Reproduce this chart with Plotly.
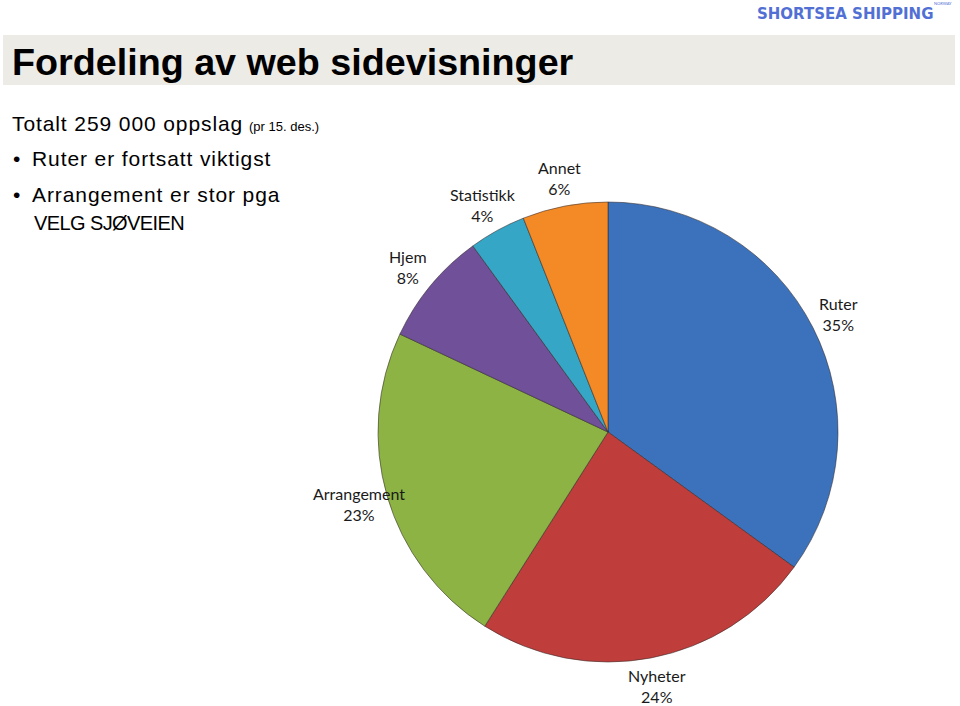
import math
import plotly.graph_objects as go

categories = ["Ruter", "Nyheter", "Arrangement", "Hjem", "Statistikk", "Annet"]
values = [35, 24, 23, 8, 4, 6]
colors = ["#3C72BC", "#BF3E3B", "#8CB343", "#6F5099", "#35A6C6", "#F38A26"]

W, H = 960, 706
cx_px, cy_px, r_px = 608, 432, 230
label_r_px = 259

def px(x):
    return x / W

def py(y):
    return 1 - y / H

fig = go.Figure()
fig.add_trace(go.Pie(
    labels=categories, values=values, sort=False, direction="clockwise", rotation=0,
    marker=dict(colors=colors, line=dict(color="rgba(50,40,40,0.55)", width=1)),
    textinfo="none", hoverinfo="label+percent", showlegend=False,
    domain=dict(x=[px(cx_px - r_px), px(cx_px + r_px)], y=[py(cy_px + r_px), py(cy_px - r_px)]),
))

annotations = []
total = sum(values)
cum = 0
for cat, v in zip(categories, values):
    mid = (cum + v / 2) / total * 2 * math.pi
    cum += v
    lx = cx_px + label_r_px * math.sin(mid)
    ly = cy_px - label_r_px * math.cos(mid)
    annotations.append(dict(
        x=px(lx), y=py(ly), xref="paper", yref="paper", showarrow=False,
        text=f"{cat}<br>{round(v / total * 100)}%", align="center", borderpad=0,
        font=dict(family="Lato, Carlito, sans-serif", size=16, color="#1a1a1a"),
        xanchor="center", yanchor="middle",
    ))

body_font = dict(family="Liberation Sans, Arial, sans-serif", size=21, color="#000")
sp = "<span style='letter-spacing:0.9px'>{}</span>"

annotations += [
    dict(x=px(10), y=py(62), xref="paper", yref="paper", showarrow=False, xanchor="left", yanchor="middle",
         text="<b>Fordeling av web sidevisninger</b>",
         font=dict(family="Liberation Sans, Arial, sans-serif", size=37.7, color="#000")),
    dict(x=px(10), y=py(123), xref="paper", yref="paper", showarrow=False, xanchor="left", yanchor="middle",
         text=sp.format("Totalt 259 000 oppslag") + " <span style='font-size:13px'>(pr 15. des.)</span>",
         font=body_font),
    dict(x=px(11), y=py(158), xref="paper", yref="paper", showarrow=False, xanchor="left", yanchor="middle",
         text="•  " + sp.format("Ruter er fortsatt viktigst"), font=body_font),
    dict(x=px(11), y=py(194), xref="paper", yref="paper", showarrow=False, xanchor="left", yanchor="middle",
         text="•  " + sp.format("Arrangement er stor pga"), font=body_font),
    dict(x=px(32), y=py(223), xref="paper", yref="paper", showarrow=False, xanchor="left", yanchor="middle",
         text="<span style='letter-spacing:-0.6px'>VELG SJØVEIEN</span>",
         font=dict(family="Liberation Sans, Arial, sans-serif", size=20, color="#000")),
    dict(x=px(845), y=py(14), xref="paper", yref="paper", showarrow=False, xanchor="center", yanchor="middle",
         text="<b>SHORTSEA SHIPPING</b>", borderpad=0,
         font=dict(family="DejaVu Sans, sans-serif", size=15, color="#5270D4")),
    dict(x=px(943), y=py(0), xref="paper", yref="paper", showarrow=False, xanchor="center", yanchor="top",
         text="NORWAY", borderpad=0, font=dict(family="Lato, sans-serif", size=4, color="#5270D4")),
]

fig.update_layout(
    width=W, height=H, margin=dict(l=0, r=0, t=0, b=0),
    paper_bgcolor="white", plot_bgcolor="white",
    annotations=annotations,
    shapes=[dict(type="rect", xref="paper", yref="paper", x0=px(3), x1=px(955), y0=py(85), y1=py(35),
                 fillcolor="#ECEBE5", line=dict(width=0), layer="below")],
)

fig.write_html("out.html")
